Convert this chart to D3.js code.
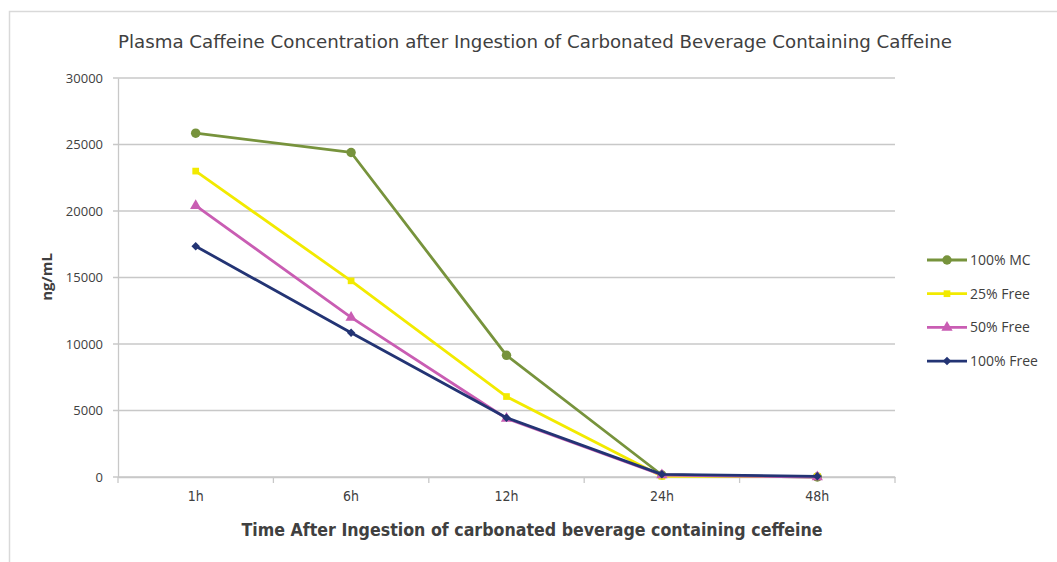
<!DOCTYPE html>
<html lang="en">
<head>
<meta charset="UTF-8">
<title>Plasma Caffeine Concentration</title>
<style>
  body { margin: 0; background: #fff; }
  text { fill: #404040; }
</style>
</head>
<body>
<svg id="chart" width="1057" height="562"></svg>
<script src="https://d3js.org/d3.v7.min.js"></script>
<script>
// data
const categories = ["1h", "6h", "12h", "24h", "48h"];
const seriesNames = ["100% MC", "25% Free", "50% Free", "100% Free"];
const mc100   = [25850, 24400, 9150, 150, 0];
const free25  = [23000, 14750, 6050, 50, 50];
const free50  = [20400, 12000, 4400, 150, 0];
const free100 = [17350, 10850, 4450, 200, 50];
const yTicks  = [0, 5000, 10000, 15000, 20000, 25000, 30000];

const colors  = ["#77933c", "#f2ea00", "#c95db3", "#233474"];
// diamond = square turned 45deg
const symbols = [d3.symbolCircle, d3.symbolSquare, d3.symbolTriangle, d3.symbolSquare];
const symSize = [70, 45, 55, 36];
const symRot  = [0, 0, 0, 45];

const series = seriesNames.map((name, i) => ({
  name: name,
  values: [mc100, free25, free50, free100][i]
}));

const svg = d3.select("#chart");
const margin = {left: 118, right: 895, top: 78, bottom: 477};

// chart frame
svg.append("path")
  .attr("d", "M9.5,562 V11.5 H1057")
  .attr("fill", "none")
  .attr("stroke", "#d9d9d9")
  .attr("stroke-width", 1.5);

const x = d3.scaleBand().domain(categories).range([margin.left, margin.right]);
const y = d3.scaleLinear().domain([0, 30000]).range([margin.bottom, margin.top]);

// gridlines
svg.append("g")
  .selectAll("line")
  .data(yTicks)
  .join("line")
    .attr("x1", margin.left - 5)
    .attr("x2", margin.right)
    .attr("y1", d => y(d))
    .attr("y2", d => y(d))
    .attr("stroke", "#c8c8c8")
    .attr("stroke-width", 1.3);

// y axis
const yAxis = svg.append("g")
  .attr("transform", `translate(${margin.left},0)`)
  .call(d3.axisLeft(y).tickValues(yTicks).tickFormat(d3.format("d")).tickSize(0).tickPadding(15));
yAxis.select(".domain").attr("stroke", "#c8c8c8").attr("stroke-width", 1.3);
yAxis.selectAll("text")
  .attr("font-family", "'Open Sans', sans-serif")
  .attr("font-size", 13)
  .attr("fill", "#595959");

// x axis
const xAxis = svg.append("g")
  .attr("transform", `translate(0,${margin.bottom})`)
  .call(d3.axisBottom(x).tickSize(0).tickPadding(14));
xAxis.select(".domain").attr("stroke", "#c8c8c8").attr("stroke-width", 1.3);
xAxis.selectAll("text")
  .attr("font-family", "'Liberation Sans Narrow', 'DejaVu Sans Condensed', sans-serif")
  .attr("font-size", 14)
  .attr("fill", "#595959");
// tick marks between categories
xAxis.selectAll(".sep")
  .data(d3.range(categories.length + 1))
  .join("line")
    .attr("class", "sep")
    .attr("x1", i => margin.left + i * x.step())
    .attr("x2", i => margin.left + i * x.step())
    .attr("y1", 0)
    .attr("y2", 6)
    .attr("stroke", "#c8c8c8")
    .attr("stroke-width", 1.3);

// lines + markers
const line = d3.line()
  .x((d, i) => x(categories[i]) + x.bandwidth() / 2)
  .y(d => y(d));

const g = svg.append("g");
series.forEach((s, si) => {
  g.append("path")
    .datum(s.values)
    .attr("fill", "none")
    .attr("stroke", colors[si])
    .attr("stroke-width", 2.8)
    .attr("stroke-linejoin", "round")
    .attr("d", line);
  g.selectAll(".m" + si)
    .data(s.values)
    .join("path")
      .attr("class", "m" + si)
      .attr("transform", (d, i) => `translate(${x(categories[i]) + x.bandwidth() / 2},${y(d)}) rotate(${symRot[si]})`)
      .attr("d", d3.symbol().type(symbols[si]).size(symSize[si]))
      .attr("fill", colors[si]);
});

// legend
const legend = svg.append("g").attr("transform", "translate(927,260)");
series.forEach((s, si) => {
  const row = legend.append("g").attr("transform", `translate(0,${si * 33.7})`);
  row.append("line")
    .attr("x1", 0).attr("x2", 40)
    .attr("stroke", colors[si]).attr("stroke-width", 2.8);
  row.append("path")
    .attr("transform", `translate(20,0) rotate(${symRot[si]})`)
    .attr("d", d3.symbol().type(symbols[si]).size(symSize[si]))
    .attr("fill", colors[si]);
  row.append("text")
    .attr("x", 43)
    .attr("dy", "0.35em")
    .attr("font-family", "'Open Sans', sans-serif")
    .attr("font-size", 14)
    .attr("fill", "#404040")
    .text(s.name);
});

// title
svg.append("text")
  .attr("x", 535)
  .attr("y", 48)
  .attr("text-anchor", "middle")
  .attr("font-family", "'Liberation Sans Narrow', 'DejaVu Sans Condensed', sans-serif")
  .attr("font-size", 18)
  .attr("textLength", 834)
  .attr("lengthAdjust", "spacingAndGlyphs")
  .text("Plasma Caffeine Concentration after Ingestion of Carbonated Beverage Containing Caffeine");

// axis titles
svg.append("text")
  .attr("x", 532)
  .attr("y", 536)
  .attr("text-anchor", "middle")
  .attr("font-family", "'Liberation Sans Narrow', 'DejaVu Sans Condensed', sans-serif")
  .attr("font-weight", "bold")
  .attr("font-size", 17)
  .attr("textLength", 581)
  .attr("lengthAdjust", "spacingAndGlyphs")
  .text("Time After Ingestion of carbonated beverage containing ceffeine");

svg.append("text")
  .attr("transform", "translate(52,277) rotate(-90)")
  .attr("text-anchor", "middle")
  .attr("font-family", "'Open Sans', sans-serif")
  .attr("font-weight", "bold")
  .attr("font-size", 15)
  .text("ng/mL");
</script>
</body>
</html>
